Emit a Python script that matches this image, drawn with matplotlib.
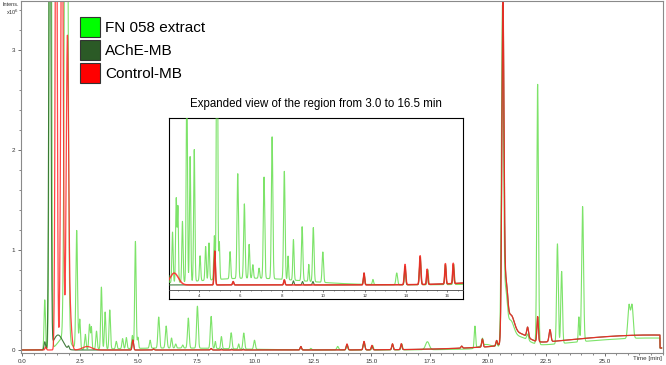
import numpy as np
import matplotlib
matplotlib.use('Agg')
import matplotlib.pyplot as plt
from matplotlib.patches import Patch
from matplotlib.ticker import MultipleLocator, FixedLocator

plt.rcParams['font.family'] = ['Liberation Sans', 'DejaVu Sans']

seriesNames = ['FN 058 extract', 'AChE-MB', 'Control-MB']
legendColors = ['#00ff00', '#2b5a26', '#ff0000']
traceColors = ['#5cdc44', '#2f6e2a', '#ff2424']

# peak tables: retention time [min], height [x10^6], sigma [min]
fnTimes = [0.98, 1.22, 1.9, 1.8, 2.35, 2.48, 2.72, 2.9, 2.98, 3.2, 3.41, 3.57, 3.77,
           4.05, 4.32, 4.48, 4.74, 4.87, 4.98, 5.5, 5.87, 6.19, 6.42, 6.6, 6.9,
           7.14, 7.53, 8.12, 8.3, 8.56, 8.98, 9.3, 9.52, 9.98, 6.5,
           11.97, 12.4, 13.55, 13.95, 14.68, 15.05, 15.9, 16.3, 17.4,
           19.44, 19.76, 19.9, 20.37, 20.62, 20.75, 20.95, 21.3, 27.0,
           21.7, 22.13, 22.98, 23.16, 23.9, 24.06, 26.05, 26.18]
fnHeights = [0.5, 9.0, 9.0, 0.12, 1.18, 0.3, 0.15, 0.25, 0.22, 0.18, 0.62, 0.37, 0.39,
             0.074, 0.1, 0.11, 0.13, 1.07, 0.11, 0.08, 0.31, 0.22, 0.1, 0.04, 0.03,
             0.3, 0.42, 0.32, 0.07, 0.12, 0.16, 0.05, 0.16, 0.09, 0.02,
             0.03, 0.015, 0.035, 0.05, 0.084, 0.045, 0.06, 0.06, 0.08,
             0.22, 0.07, 0.04, 0.05, 3.3, 0.45, 0.2, 0.1, 0.12,
             0.06, 2.6, 1.0, 0.72, 0.25, 1.35, 0.33, 0.33]
fnWidths = [0.03, 0.04, 0.06, 0.25, 0.035, 0.03, 0.03, 0.03, 0.025, 0.03, 0.03, 0.03, 0.03,
            0.03, 0.03, 0.03, 0.03, 0.03, 0.025, 0.03, 0.035, 0.035, 0.03, 0.03, 0.03,
            0.035, 0.035, 0.035, 0.025, 0.03, 0.035, 0.025, 0.035, 0.035, 2.5,
            0.03, 0.03, 0.04, 0.03, 0.035, 0.03, 0.03, 0.03, 0.08,
            0.03, 0.03, 0.25, 0.03, 0.045, 0.07, 0.15, 0.4, 3.5,
            0.04, 0.035, 0.035, 0.035, 0.025, 0.04, 0.05, 0.05]

acheTimes = [0.98, 1.2, 1.55, 2.0, 4.76, 5.65, 8.12, 8.56, 9.0, 9.5,
             11.97, 13.95, 14.68, 15.02, 15.9, 16.28, 18.87, 19.76, 20.37,
             20.64, 20.77, 20.97, 21.3, 27.0, 21.7, 22.13, 22.66]
acheHeights = [0.08, 6.0, 0.15, 0.03, 0.1, 0.01, 0.015, 0.012, 0.01, 0.01,
               0.035, 0.055, 0.08, 0.04, 0.055, 0.055, 0.02, 0.08, 0.05,
               3.37, 0.5, 0.22, 0.11, 0.15, 0.1, 0.25, 0.12]
acheWidths = [0.03, 0.04, 0.2, 0.03, 0.03, 0.03, 0.03, 0.03, 0.03, 0.03,
              0.03, 0.035, 0.035, 0.03, 0.03, 0.03, 0.03, 0.03, 0.03,
              0.045, 0.07, 0.15, 0.4, 4.0, 0.04, 0.03, 0.04]

ctrlTimes = [1.02, 1.47, 1.72, 1.95, 2.05, 2.8, 4.76, 5.65, 8.12,
             11.97, 13.95, 14.68, 15.02, 15.9, 16.28, 18.87, 19.76, 20.37,
             20.64, 20.77, 20.97, 21.3, 27.0, 21.7, 22.13, 22.66]
ctrlHeights = [0.03, 6.0, 5.0, 3.0, 0.4, 0.035, 0.1, 0.01, 0.015,
               0.035, 0.06, 0.085, 0.045, 0.06, 0.06, 0.02, 0.08, 0.05,
               3.37, 0.5, 0.22, 0.11, 0.15, 0.1, 0.25, 0.12]
ctrlWidths = [0.03, 0.04, 0.05, 0.05, 0.07, 0.2, 0.03, 0.03, 0.03,
              0.03, 0.035, 0.035, 0.03, 0.03, 0.03, 0.03, 0.03, 0.03,
              0.045, 0.07, 0.15, 0.4, 4.0, 0.04, 0.03, 0.04]

runEnd = 27.38
endLevel = 0.02

peakTables = [(fnTimes, fnHeights, fnWidths),
              (acheTimes, acheHeights, acheWidths),
              (ctrlTimes, ctrlHeights, ctrlWidths)]


def buildTrace(t, times, heights, widths):
    y = np.zeros_like(t)
    for rt, h, s in zip(times, heights, widths):
        y += h * np.exp(-0.5 * ((t - rt) / s) ** 2)
    y[t > runEnd] = endLevel
    return y


t = np.linspace(0, 27.45, 8000)
traces = [buildTrace(t, *p) for p in peakTables]

fig = plt.figure(figsize=(6.66, 3.65), dpi=100)
ax = fig.add_axes([21 / 666, 1 - 353 / 365, 642 / 666, 352 / 365])

widthsLine = [0.8, 0.8, 0.9]
alphas = [0.8, 0.9, 0.85]
for y, c, lw, a in zip(traces, traceColors, widthsLine, alphas):
    ax.plot(t, y, color=c, lw=lw, alpha=a)

ax.set_xlim(-0.04, 27.51)
ax.set_ylim(-0.03, 3.49)
ax.xaxis.set_major_locator(FixedLocator(np.arange(0, 25.1, 2.5)))
ax.xaxis.set_minor_locator(MultipleLocator(0.5))
ax.set_xticklabels([f"{v:.1f}" for v in np.arange(0, 25.1, 2.5)])
ax.set_yticks([0, 1, 2, 3])
ax.yaxis.set_minor_locator(MultipleLocator(0.2))
ax.tick_params(axis='both', which='major', length=2.5, width=0.6, color='#555555',
               labelsize=4.5, labelcolor='#333333', pad=1.5)
ax.tick_params(axis='both', which='minor', length=1.5, width=0.5, color='#555555')
for s in ax.spines.values():
    s.set_color('#8a8a8a')
    s.set_linewidth(0.8)
ax.text(0.998, -0.008, 'Time [min]', transform=ax.transAxes, ha='right', va='top',
        fontsize=4.5, color='#333333')
fig.text(19 / 666, 1 - 5 / 365, 'Intens.', ha='right', va='center', fontsize=4, color='#333333')
fig.text(19 / 666, 1 - 12 / 365, 'x10$^6$', ha='right', va='center', fontsize=4, color='#333333')

handles = [Patch(facecolor=c, edgecolor='#333333', linewidth=0.8) for c in legendColors]
fig.legend(handles, seriesNames, loc='upper left', bbox_to_anchor=(80 / 666, 1 - 17 / 365),
           frameon=False, fontsize=11, handlelength=1.3, handleheight=1.6,
           handletextpad=0.35, labelspacing=0.22, borderpad=0, borderaxespad=0)

# inset: expanded view 3.0 - 16.5 min
box = fig.add_axes([169 / 666, 1 - 299 / 365, 294 / 666, 181 / 365], zorder=5)
box.set_facecolor('white')
box.set_xticks([])
box.set_yticks([])
for s in box.spines.values():
    s.set_color('black')
    s.set_linewidth(0.8)
fig.text(316 / 666, 1 - 104 / 365, 'Expanded view of the region from 3.0 to 16.5 min',
         ha='center', va='center', fontsize=8.3, color='black')

ins = fig.add_axes([169 / 666, 1 - 290 / 365, 294 / 666, 172 / 365], zorder=6)
ins.patch.set_alpha(0)
for y, c, lw, a in zip(traces, traceColors, [0.8, 0.8, 1.1], alphas):
    ins.plot(t, y, color=c, lw=lw, alpha=a)
ins.set_xlim(2.55, 16.75)
ins.set_ylim(-0.015, 0.494)
ins.set_xticks(np.arange(4, 16.1, 2))
ins.xaxis.set_minor_locator(MultipleLocator(0.5))
ins.set_yticks([])
ins.tick_params(axis='x', which='major', length=1.5, width=0.5, labelsize=3.2,
                labelcolor='#333333', pad=1.2, color='#444444')
ins.tick_params(axis='x', which='minor', length=1, width=0.4, color='#444444')
for k in ['top', 'left', 'right']:
    ins.spines[k].set_visible(False)
ins.spines['bottom'].set_color('#444444')
ins.spines['bottom'].set_linewidth(0.6)

fig.savefig('out.png', dpi=100)
